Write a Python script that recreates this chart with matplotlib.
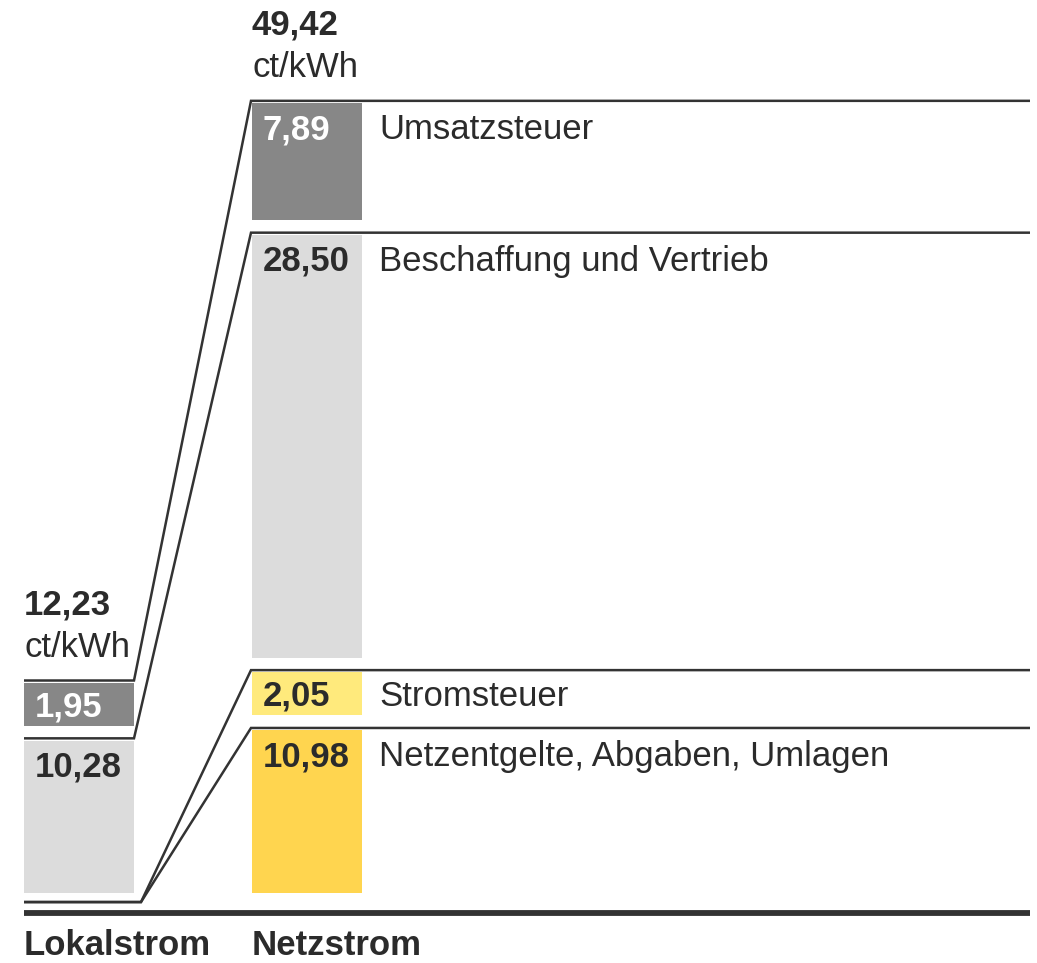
import matplotlib

matplotlib.use("Agg")
import matplotlib.pyplot as plt

# categories stacked from the bottom up
CATEGORIES = ["Netzentgelte, Abgaben, Umlagen", "Stromsteuer",
              "Beschaffung und Vertrieb", "Umsatzsteuer"]
PRODUCTS = ["Lokalstrom", "Netzstrom"]
LOKALSTROM = [0.0, 0.0, 10.28, 1.95]
NETZSTROM = [10.98, 2.05, 28.50, 7.89]
UNIT = "ct/kWh"

FILL = ["#FFD54F", "#FFEA7C", "#DCDCDC", "#878787"]
VALUE_INK = ["#2b2b2b", "#2b2b2b", "#2b2b2b", "#ffffff"]
INK = "#2b2b2b"
LINE = "#333333"

W, H, DPI = 1037, 963, 100
Y_MIN, Y_MAX = -4.72, 60.22
BAR_X = [24, 252]
BAR_W = 110
RIGHT = 1030
GAP = 1.0        # white gap between stacked segments (ct/kWh)
MIN_H = 2.9      # small segments are drawn at least this tall, as in the original
LINE_OFF = 0.15  # rule sits just above each segment
ZERO_Y = -0.61
BASE_Y = -1.35
FS = 25

plt.rcParams["font.family"] = ["Liberation Sans", "DejaVu Sans"]


def fmt(v):
    return f"{v:.2f}".replace(".", ",")


def stack(values):
    segs, cur = [], 0.0
    for v in values:
        if v > 0:
            h = max(v, MIN_H)
            segs.append((cur, cur + h))
            cur += h + GAP
        else:
            segs.append(None)
    return segs


fig = plt.figure(figsize=(W / DPI, H / DPI), dpi=DPI, facecolor="white")
ax = fig.add_axes([0, 0, 1, 1])
ax.set_xlim(0, W)
ax.set_ylim(Y_MIN, Y_MAX)
ax.axis("off")

series = [LOKALSTROM, NETZSTROM]
stacks = [stack(s) for s in series]

# bars and value labels
for p, (vals, segs) in enumerate(zip(series, stacks)):
    x0 = BAR_X[p]
    for i, (v, seg) in enumerate(zip(vals, segs)):
        if seg is None:
            continue
        b, t = seg
        ax.bar(x0, t - b, bottom=b, width=BAR_W, align="edge",
               color=FILL[i], linewidth=0)
        if v < 4:
            y, dy = (b + t) / 2, -12
        else:
            y, dy = t, -36
        ax.annotate(fmt(v), (x0, y), xytext=(11, dy), textcoords="offset pixels",
                    ha="left", va="baseline", fontsize=FS, fontweight="bold",
                    color=VALUE_INK[i])
        if p == 1:
            ax.annotate(CATEGORIES[i], (x0, y), xytext=(127, dy),
                        textcoords="offset pixels", ha="left", va="baseline",
                        fontsize=FS, color=INK)

# connector rules
segL, segN = stacks
for i in range(len(CATEGORIES)):
    if segL[i] is None:
        yl, xl = ZERO_Y, BAR_X[0] + BAR_W + 7
    else:
        yl, xl = segL[i][1] + LINE_OFF, BAR_X[0] + BAR_W
    yn = segN[i][1] + LINE_OFF
    ax.plot([BAR_X[0], xl, BAR_X[1] - 1, RIGHT], [yl, yl, yn, yn],
            color=LINE, linewidth=1.8, solid_joinstyle="miter",
            solid_capstyle="butt")

# baseline
ax.plot([BAR_X[0], RIGHT], [BASE_Y, BASE_Y], color=LINE, linewidth=4.2,
        solid_capstyle="butt")

# totals and product names
for p, (vals, segs) in enumerate(zip(series, stacks)):
    top = max(s[1] for s in segs if s is not None) + LINE_OFF
    ax.annotate(fmt(sum(vals)), (BAR_X[p], top), xytext=(0, 66),
                textcoords="offset pixels", ha="left", va="baseline",
                fontsize=FS, fontweight="bold", color=INK)
    ax.annotate(UNIT, (BAR_X[p], top), xytext=(0, 24),
                textcoords="offset pixels", ha="left", va="baseline",
                fontsize=FS, color=INK)
    ax.annotate(PRODUCTS[p], (BAR_X[p], BASE_Y), xytext=(0, -42),
                textcoords="offset pixels", ha="left", va="baseline",
                fontsize=FS, fontweight="bold", color=INK)

fig.savefig("out.png", dpi=DPI, facecolor="white")
plt.close(fig)
